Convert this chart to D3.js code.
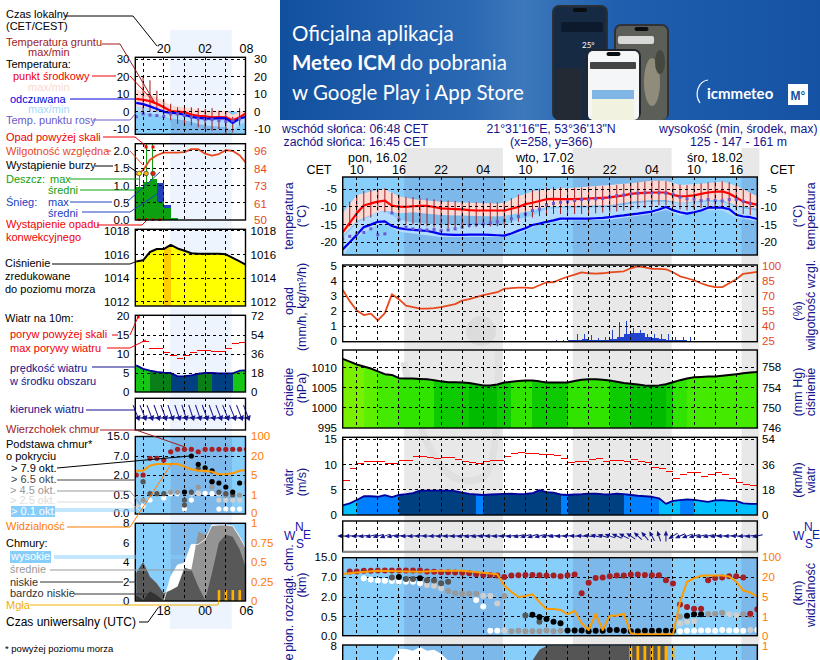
<!DOCTYPE html>
<html>
<head>
<meta charset="utf-8">
<script src="https://cdn.jsdelivr.net/npm/d3@7"></script>
<style>
  body { margin: 0; background: #fff; }
  svg { display: block; }
  text { font-family: "Liberation Sans", Arial, sans-serif; font-size: 11px; }
</style>
</head>
<body>
<svg id="chart" width="820" height="660"></svg>
<script>
// ---- wide chart, hourly from Mon 08:00 (h=8) to Wed 19:00 (h=67)
const hoursR = d3.range(8, 68);
const tempMidR = [-17.2,-14.5,-11.8,-9.6,-9,-8.5,-8.2,-9.6,-9.9,-10,-9.8,-9.7,-9.7,-10,-10.4,-10.5,-10.6,-10.7,-10.9,-11,-11,-11,-11,-11,-10.5,-10,-9.2,-8.8,-8.3,-7.8,
  -7.7,-7.8,-7.8,-7.8,-7.7,-7.6,-7.5,-7.4,-7.3,-7,-6.7,-6.3,-6.1,-6,-5.9,-5.9,-5.9,-6.6,-7,-6.9,-6.7,-6.3,-5.9,-5.7,-5.6,-6.2,-7.3,-8.5,-8.9,-9.4];
const feelsR = [-22,-20,-17.9,-15.7,-15,-14.2,-14.1,-15.4,-16,-16.3,-16.5,-16.6,-16.8,-17.2,-17.7,-17.8,-17.9,-17.9,-17.8,-17.8,-17.8,-17.9,-18,-18.1,-17.5,-16.7,-16,-15.1,-14.7,-14.2,
  -13.8,-13.3,-13.3,-13.3,-13.3,-13.3,-13.2,-13.1,-12.9,-12.6,-12.4,-12.1,-11.9,-11.6,-11.3,-10.7,-10,-10.9,-11.5,-11.9,-11.5,-11,-10.2,-10.2,-10.2,-10.6,-12.2,-12.7,-12.9,-13.4];
const dewR = [-19,-18.3,-17.4,-17.2,-16.2,-17.9,-17.6,-11.7,-13.6,-15.7,-16.2,-16.4,-16.5,-16.4,-16.7,-16.5,-16.2,-15.7,-15.2,-15,-14.8,-14.5,-14.2,-13.8,-13.3,-12.7,-12,-11,-10.6,-9.4,
  -9,-8.7,-8.5,-8.2,-7.9,-7.9,-7.7,-7.6,-7.2,-6.8,-6.6,-6.3,-6.1,-6,-6,-6,-6.1,-6.4,-7.2,-7.7,-7.8,-8.2,-7.9,-8.2,-8.3,-7.9,-7.9,-8.4,-9,-9.4];
const groundMaxR = [-10.5,-8.5,-6.6,-5.5,-5.2,-4.8,-4.7,-6,-6.5,-7.2,-7.2,-7.5,-7.5,-7.8,-8,-8.2,-8.3,-8.4,-8.5,-8.6,-8.7,-8.8,-8.7,-8.6,-7.5,-6.5,-5.6,-5.2,-4.8,-4.5,
  -4.3,-4.4,-4.6,-4.6,-4.5,-4.3,-4.2,-4.1,-4,-3.8,-3.5,-3.2,-3,-2.8,-2.6,-2.6,-2.7,-3.3,-3.7,-3.8,-3.6,-3.3,-3,-2.8,-2.7,-3,-3.8,-5,-6,-7];
const groundMinR = [-20,-15.5,-14.5,-14,-13,-11,-11.5,-12,-13.5,-14.8,-15,-15.2,-15.5,-15.8,-16,-16,-16,-16,-15.8,-15.7,-15.5,-15.5,-15.5,-15,-14.5,-14.2,-13.8,-13,-12.6,-12.2,
  -12,-12,-12,-12,-12,-12,-11.8,-11.6,-11.5,-11.3,-11,-10.8,-10.5,-10.3,-10,-9.5,-9.5,-10,-10.7,-11,-10.7,-10.3,-10,-10,-10,-10.5,-11,-12,-12.3,-12.5];
const bandHoursR = [8,10,13,14,16,18,22,26,30,31,33,35,37,40,46,49,52,54,56,60,62,64,67];
const tempMaxR = [-11.8,-6.6,-5.2,-5,-7,-7.8,-8.5,-8.8,-9,-8.8,-7,-5.6,-5,-4.7,-3.8,-3.3,-2.6,-2.6,-3.8,-3.3,-2.8,-4,-7];
const tempMinR = [-18,-14,-11.4,-11,-11.8,-11.5,-12.3,-12.5,-12.7,-12.5,-11.8,-11,-10,-9.7,-9.5,-8.5,-8,-8,-8.8,-8,-8,-9.5,-10.5];
const feelsMaxR = [-19,-14.5,-11.5,-11.2,-13.5,-14.5,-15,-15,-15.2,-15,-13.5,-12.5,-10.5,-10.2,-10,-9,-8.5,-8.5,-9,-8.5,-8.5,-10,-11];
const feelsMinR = [-24,-18.5,-15,-14.8,-17,-17.5,-18.5,-18.5,-18.5,-18.5,-17.5,-15.8,-14.5,-13.8,-13.6,-12.8,-12,-10.8,-12.5,-11,-10.9,-13,-14];
const humidityR = [76.5,65,55.7,51,52.4,45.7,53,72,67,60.5,59,57.5,57.5,58,59,60.5,62,65.5,67,69,71,72.5,74,77.5,78,78.5,78.5,78,81,84,
  84,87,89.5,91.6,94,93,92.6,93,94,94.5,95,98,100,99,97.5,97.5,97,94,90,88,86,83,80.5,79,79,83,87,92.5,93.5,94.5];
const rainHoursR = d3.range(36, 59);
const rainMaxR = [0.03,0.03,0.05,0.05,0.1,0.5,0.5,0.4,0.2,0.3,0.75,1.3,1.35,0.9,0.75,0.5,0.5,0.5,0.5,0.3,0.3,0.25,0.02];
const rainMeanR = [0,0.02,0.03,0.03,0.05,0.1,0.12,0.1,0.06,0.08,0.15,0.25,0.5,0.55,0.55,0.25,0.2,0.15,0.1,0.08,0.05,0.02,0];
const pressureR = [1012.2,1011.5,1010.8,1010.3,1009.8,1009.1,1008.4,1008.2,1007.4,1007.3,1007.3,1007.2,1007.1,1006.9,1006.6,1006.4,1006.4,1006.3,1006.2,1005.9,1005.6,1005.6,1005.8,1006.3,1006.5,1006.7,1006.8,1006.8,1006.6,1006.3,
  1006.3,1006.3,1006.3,1006.7,1007,1007.1,1007.1,1007,1006.8,1006.5,1006.2,1006,1005.8,1005.6,1005.5,1005.6,1005.9,1006.4,1006.9,1007.3,1007.6,1007.7,1007.8,1007.8,1008,1008.2,1008.4,1008.6,1008.8,1008.9];
const windR = [1.9,2.3,2.95,3.7,3.7,3.6,3.9,3.55,3.95,4.1,4.3,4.8,4.8,4.8,4.8,4.8,4.7,4.4,4.15,4.05,3.95,4.05,4.1,4.15,4.2,4.1,4.15,4.3,4.9,4.5,
  4.4,4.05,3.95,4.05,4.1,4.2,4.2,4.1,4.05,4.2,4.1,3.95,3.8,3.7,3.6,3.3,2.2,2.8,2.95,3.1,3,2.8,2.6,2.9,2.95,2.8,2.8,2.3,2.2,2.2];
const gustR = [6.8,9.2,10.1,10.6,10.6,10.6,10.2,10.2,10.8,10.8,11.6,11.6,11.4,11.1,11.4,11.4,11,10.6,10.4,10.1,10.5,10.8,10.8,11.6,12.2,12.4,12.2,12.2,12,12,
  11.7,11.2,10.3,10.5,10.6,10.9,11.1,10.5,10.8,10.8,10.5,10.9,10.6,10.3,9.4,9.1,8.6,7.2,8,8.4,8.3,7.6,8,8.3,8,7.2,6.4,6,5.8];
const windDirR = [270,268,265,262,258,255,250,258,262,265,266,268,270,268,266,265,264,262,260,260,262,264,266,264,262,258,254,252,254,258,
  262,265,268,272,275,278,282,286,290,294,298,304,312,320,332,342,0,238,245,250,254,256,258,260,264,268,270,266,262,258];
const visHoursR = [8,10,13,19,22,25,28,30,31,32,33,34,35,36,37,38,39,40,41,42,43,44,45,46,47,48,49,50,52,54,55,56,57,58,59,60,62,63,64,65,66,67];
const visR = [32,38,45,41,45,45,37,31,13.6,9,5.2,6,7.2,4,2.6,2.6,2.4,1.5,2.2,0.65,0.3,1.6,0.3,1.2,1.2,1.6,0.13,0.07,0.07,0.07,0.07,4,16.5,19,25,26,26,22,16.5,10,8.5,5.5];
const cloudTopR = [null,9.2,9.2,9.5,9.5,9.6,9.6,9.6,9.6,9.6,9.6,9.6,9.2,9.1,8.9,8.9,8.8,8.7,8.5,8.1,7.8,7.8,7.6,7,7.6,7.7,7.8,7.8,7.7,7.6,
  7.6,7.3,7.7,8,3,5.6,6.75,6.9,7.3,7.6,7.6,8,8,7.8,7.7,7.7,6.2,5.4,1.45,1.25,1.12,1.12,6.2,6.75,6.9,7.3,7.3,6.9,0.73,1.07];
const base01R = [[11,6.7],[12,6.4],[13,6.15],[14,6.07],[15,6],[16,5.9],[17,5.85],[18,5.85],[19,5.44],[27,1.8],[28,1.28],[29,0.13],[30,0.13],
  [56,0.12],[57,0.13],[58,0.13],[59,0.14],[60,0.14],[61,0.13],[62,0.15],[63,0.14],[64,0.14],[65,0.13],[67,0.15]];
const base25R = [[20,5],[21,4.87],[22,4.2],[28,2.4],[29,2.3],[30,1.53],[31,0.14],[56,0.32],[57,0.37],[58,0.39],[63,0.68],[64,0.63],[66,0.15]];
const base45R = [[23,3.55],[24,3],[25,2.9],[26,2.9],[27,2.9],[31,2.3],[32,0.12],[33,0.13],[34,0.12],[35,0.12],[36,0.12],[37,0.14],[38,0.12],[39,0.13],[56,0.5],[60,0.7],[61,0.73],[62,0.8],[65,0.68],[66,0.63]];
const base65R = [[15,6.85],[17,6.5],[18,6.5],[20,6.2],[21,6.15],[22,5.44],[23,5.85],[34,0.6],[36,0.37]];
const base79R = [[16,7],[19,6.7],[35,0.65],[36,0.49],[37,0.44],[38,0.37],[39,0.33],[40,0.14],[41,0.14],[42,0.14],[43,0.12],[44,0.13],[45,0.13],[46,0.15],[47,0.15],[48,0.13],
  [49,0.12],[50,0.12],[51,0.13],[52,0.13],[53,0.13],[54,0.13],[55,0.13],[57,0.58],[58,0.68],[59,0.68]];
const highHoursR = [14,15,16,17,18,19,20,21,22,23,24];
const highR = [0,6.5,7.7,7.7,7.5,7.9,7.5,7.6,7.2,6.5,5];
const lowHoursR = [34,35,36,37,54,55];
const lowR = [0,6.5,7.6,8,8,0];
const fogHoursR = [49,50,51,52,53,54,55];
const fogR = [1,1,1,1,1,1,1];

// ---- narrow chart, hourly from 16:00 (h=16) to 08:00 next day (h=32)
const hoursL = d3.range(16, 33);
const tempMidL = [7.3,6.8,6,4.5,2.5,0.3,0,-0.3,-1.7,-2.4,-2.7,-3.3,-3.2,-3.3,-5,-3.3,-0.8];
const feelsL = [5,4.3,3,1.5,0,-0.8,-1,-1.8,-3,-3.6,-3.9,-4,-3.8,-3.9,-6.5,-4,-3];
const dewL = [-3,-1.3,-2,-2.3,-2.7,-1.3,-1.3,-2.3,-3.2,-4.2,-4.6,-4.6,-5.2,-5.6,-5.2,-4.2,-2.8];
const groundMaxL = [null,20,18,12,7,4.5,2.5,2.5,2.5,2,1.5,2,0.5,0,-3,2,2];
const groundMinL = [null,-0.5,0,0,-2,-5,-7,-8,-8,-9,-10,-11,-10,-13,-12,-8,-3];
const bandHoursL = [16,18,20,21,23,26,29,30,31,32];
const tempMaxL = [13,10,6,3.5,2.5,0.5,0.5,-2,0,-0.3];
const tempMinL = [3,2,0,-2,-2.5,-4,-5,-7,-4.5,-3];
const feelsMaxL = [4,2,-1,-2,-3,-5,-5,-7.5,-5,-3.5];
const feelsMinL = [0,-1,-3,-4,-5,-8,-9,-11,-7.5,-6];
const humidityL = [80,83,90,93,94.7,94.7,94.7,95,97,97,94,92.7,93.8,96.4,95.8,93,87.6];
const rainHoursL = [16,17,18,19,20,21];
const rainMeanL = [0.96,1.1,1.18,0.53,0.34,0.05];
const snowMeanL = [0,0,0,0.55,0.1,0];
const rainMaxL = [1.35,2.5,2.5,0,0,0];
const stormHoursL = [16,17,18];
const stormColors = ["#ffee00", "#ffb000", "#f02000"];
const convectiveHoursL = [16,17,18,19];
const pressureL = [1015.4,1015.5,1016.2,1016.45,1016.45,1016.8,1016.5,1016.3,1016.1,1016.05,1016.05,1016.05,1016.05,1016,1015.7,1015.4,1015.1];
const windL = [7,6.1,5.6,5.3,5.1,5,4.1,4.2,4.4,4.8,5,5,4.9,4.9,4.9,5.6,5.7];
const gustHoursL = d3.range(17, 32);
const gustL = [13.3,11.5,11.5,10.5,9.5,8.7,9.7,10.4,10.9,10.9,10.6,10.6,11.5,12.8,13];
const windDirL = [158,158,159,160,160,161,161,162,162,161,160,160,159,158,158,159,159];
const visL = [8.4,8.4,12.4,13.7,13.7,13.7,13.7,11.6,9.5,8.4,8.4,7.6,5.5,5.8,6.3,8.4,9];
const cloudTopL = [2,2,6.4,6.4,5.95,8.7,9.7,9.7,9.7,8.7,9.7,9.7,9.7,9.7,9.7,9.7,9.7];
const base01L = [[17,0.2],[18,0.36],[20,0.42],[21,0.6],[22,0.6],[24,0.6],[25,0.63],[26,0.63],[27,0.6],[28,0.6],[24,0.36],[23,0.12],[28,0.11],[29,0.11],[30,0.11],[31,0.11]];
const base25L = [[16,0.2],[21,0.72],[22,0.72],[25,0.63],[28,0.36],[29,0.36],[30,0.36],[31,0.36]];
const base45L = [[17,0.36],[21,0.72],[22,0.72],[24,0.65],[25,1.1],[26,3.2],[27,1.1],[28,0.65],[29,0.5],[31,0.5],[32,1.4]];
const base65L = [[17,1.5],[18,0.6],[19,0.6],[20,0.6],[23,0.36],[23,0.22],[24,0.72],[25,3.7],[27,1.5],[28,0.72],[29,0.6],[30,0.5]];
const base79L = [[24,7],[25,4.8],[26,3.9],[27,3.1],[27,1.5],[28,1.4],[29,1.1],[30,0.72],[31,1.4],[23,0.72]];
const highL = [0,0,0,0,0,2.5,3.7,3.9,5.8,5.8,6.3,7.8,7.8,7.8,7.7,6.6,5.3];
const midL = [0,0,0,0,0.8,0.8,0.8,3.2,3.2,7.1,6.8,7.7,7.8,7.8,7.7,6.6,5.3];
const lowL = [2.9,4,2.5,1.8,0.8,1.1,1.5,3.4,3.2,1.5,0.1,2.9,6,6.8,6.6,5.3,3.2];
const veryLowL = [0.6,0.1,1,0.6,0,0,0,0,0,0,0,0,0,0,0,0,0];
const fogHoursL = [28,29,30,31];
const fogL = [0.14,0.14,0.14,0.14];

const nightR = [[16.75,30.8],[40.75,54.8],[64.75,67.3]];
const nightL = [[21,29.9]];
const timeTicksR = ["10","16","22","04","10","16","22","04","10","16"];
const timeTicksL = ["20","02","08"];
const utcTicksL = ["18","00","06"];

const xR = d3.scaleLinear().domain([8, 67]).range([342.7, 757.3]);
const xL = d3.scaleLinear().domain([16, 32]).range([136.2, 246.5]);

const svg = d3.select("#chart");
const NAVY = "#14148c", DEEPBLUE = "#1515a8", ORANGE = "#ff7a00", RHCOL = "#e8481c", BROWN = "#a01c1c";
const SKY = "#87cefa", SKYNIGHT = "#7cb9ea", LIGHTSKY = "#b4dcff", PINK = "#fbdad6";

function label(txt, x, y, color, size, anchor) {
  return svg.append("text").attr("x", x).attr("y", y).attr("fill", color || "#000")
    .style("font-size", (size || 11) + "px")
    .attr("text-anchor", anchor || "start").text(txt);
}
function vlabel(txt, x, y, color, size) {
  return svg.append("text").attr("transform", `translate(${x},${y}) rotate(-90)`)
    .attr("fill", color || NAVY).style("font-size", (size || 12.5) + "px")
    .attr("text-anchor", "middle").text(txt);
}
function conn(points, color, w) {
  svg.append("path").attr("d", d3.line()(points)).attr("fill", "none")
    .attr("stroke", color || "#000").attr("stroke-width", w || 1);
}

// banner
const defs = svg.append("defs");
const grad = defs.append("linearGradient").attr("id", "bannerGrad");
[["0%","#11509f"],["35%","#2a68b4"],["45%","#3c78ba"],["62%","#1f5fae"],["100%","#1552a4"]].forEach(s =>
  grad.append("stop").attr("offset", s[0]).attr("stop-color", s[1]));
svg.append("rect").attr("x", 280).attr("y", 0).attr("width", 540).attr("height", 120).attr("fill", "url(#bannerGrad)");
const bannerText = (t, x, y, size, weight) => svg.append("text").attr("x", x).attr("y", y).attr("fill", "#fff")
  .style("font-family", "Lato").style("font-size", size + "px").style("font-weight", weight || 400).text(t);
bannerText("Oficjalna aplikacja", 292, 41, 20.5);
bannerText("Meteo ICM", 292, 70, 20.5, 700);
bannerText("do pobrania", 400, 70, 20.5);
bannerText("w Google Play i App Store", 292, 100, 20.5);
function phone(x, y, w, h, body, screen) {
  svg.append("rect").attr("x", x).attr("y", y).attr("width", w).attr("height", h).attr("rx", 7).attr("fill", body);
  svg.append("rect").attr("x", x + 2).attr("y", y + 2).attr("width", w - 4).attr("height", h - 2).attr("rx", 5).attr("fill", screen);
  svg.append("rect").attr("x", x + w / 2 - 7).attr("y", y + 3).attr("width", 14).attr("height", 4).attr("rx", 2).attr("fill", "#0a0d12");
}
const fillRect = (x, y, w, h, fill, rx) => svg.append("rect").attr("x", x).attr("y", y).attr("width", w).attr("height", h).attr("rx", rx || 0).attr("fill", fill);
phone(552, 5, 56, 115, "#2b2f36", "#162a44");
fillRect(561, 22, 42, 10, "#0d1a2e", 2);
bannerText("25°", 582, 48, 8);
fillRect(556, 68, 26, 52, "#232a33");
phone(614, 24, 55, 96, "#30323a", "#5c5f58");
fillRect(618, 36, 36, 8, "#d8d8d8", 2);
svg.append("ellipse").attr("cx", 652).attr("cy", 82).attr("rx", 8).attr("ry", 24).attr("fill", "#8f8c7c");
svg.append("ellipse").attr("cx", 660).attr("cy", 62).attr("rx", 5).attr("ry", 12).attr("fill", "#45483f");
phone(586, 49, 55, 71, "#22252b", "#f4f6f8");
fillRect(590, 62, 46, 7, "#444", 1);
fillRect(592, 90, 42, 9, "#7fb6e6");
fillRect(592, 99, 42, 21, "#f2f2e0");
svg.append("text").attr("x", 707).attr("y", 99).attr("fill", "#fff").style("font-family", "Lato").style("font-size", "15px").style("font-weight", 700).text("icmmeteo");
fillRect(788, 84, 20, 21, "#fff");
svg.append("text").attr("x", 798).attr("y", 100).attr("text-anchor", "middle").attr("fill", "#1552a4").style("font-size", "12px").style("font-weight", 700).text("M°");
svg.append("path").attr("d", "M700,103 A12,14 0 0 1 708,80").attr("fill", "none").attr("stroke", "#fff").attr("stroke-width", 1.2);

// header lines
label("wschód słońca: 06:48 CET", 282, 133, NAVY, 12.3);
label("zachód słońca: 16:45 CET", 283.5, 146, NAVY, 12.3);
label("21°31'16\"E, 53°36'13\"N", 486.5, 133, NAVY, 12.3);
label("(x=258, y=366)", 510, 146, NAVY, 12.3);
label("wysokość (min, środek, max)", 659, 133, NAVY, 12.3);
label("125 - 147 - 161 m", 690, 146, NAVY, 12.3);

// day/night bands behind the panels
nightR.forEach(n => svg.append("rect").attr("x", xR(n[0])).attr("y", 148).attr("width", xR(n[1]) - xR(n[0])).attr("height", 512).attr("fill", "#e8e8e8"));
nightL.forEach(n => svg.append("rect").attr("x", 170).attr("y", 30).attr("width", 61.7).attr("height", 599).attr("fill", "#eef4fd"));
svg.append("circle").attr("cx", 481).attr("cy", 331).attr("r", 15).attr("fill", "#dcdcdc");
svg.append("path").attr("d", "M404,362 Q430,500 482,478 Q500,470 498,350").attr("fill", "none").attr("stroke", "#e0e0e0").attr("stroke-width", 7);

// small helpers working on one panel
function frame(x0, x1, top, bottom) { return { x0, x1, top, bottom, w: x1 - x0, h: bottom - top }; }
function skyBackground(p, x, nights, yFrom) {
  svg.append("rect").attr("x", p.x0).attr("y", yFrom).attr("width", p.w).attr("height", p.bottom - yFrom).attr("fill", SKY);
  nights.forEach(n => {
    const a = Math.max(x(n[0]), p.x0), b = Math.min(x(n[1]), p.x1);
    svg.append("rect").attr("x", a).attr("y", yFrom).attr("width", b - a).attr("height", p.bottom - yFrom).attr("fill", SKYNIGHT);
  });
}
function grid(p, xTicks, x, yTicks, y) {
  const g = svg.append("g").attr("stroke", "#000").attr("stroke-dasharray", "3,3").attr("shape-rendering", "crispEdges");
  g.selectAll(".v").data(xTicks).join("line").attr("x1", d => x(d)).attr("x2", d => x(d)).attr("y1", p.top).attr("y2", Math.min(p.bottom, 660));
  if (y) g.selectAll(".h").data(yTicks).join("line").attr("x1", p.x0).attr("x2", p.x1).attr("y1", d => y(d)).attr("y2", d => y(d));
}
function border(p) {
  svg.append("rect").attr("x", p.x0).attr("y", p.top).attr("width", p.w).attr("height", p.h)
    .attr("fill", "none").attr("stroke", "#000").attr("stroke-width", 1.4);
}
function axis(scale, ticks, xPos, side, color, fmt) {
  const a = (side === "left" ? d3.axisLeft(scale) : d3.axisRight(scale)).tickValues(ticks).tickSize(0).tickPadding(0).tickFormat(fmt || String);
  const g = svg.append("g").attr("transform", `translate(${xPos},0)`).call(a);
  g.select(".domain").remove();
  g.selectAll("text").attr("fill", color || "#000").style("font-size", "11.5px").style("font-family", '"Liberation Sans", Arial, sans-serif');
  return g;
}
function bandArea(parent, hours, x, y, hi, lo, fill) {
  const area = d3.area().x((d, i) => x(hours[i])).y0((d, i) => y(lo[i])).y1((d, i) => y(hi[i]));
  parent.append("path").attr("d", area(hours)).attr("fill", fill);
}
function seriesLine(parent, hours, values, x, y, color, w) {
  const line = d3.line().defined((d, i) => values[i] !== null).x(d => x(d)).y((d, i) => y(values[i]));
  parent.append("path").attr("d", line(hours)).attr("fill", "none").attr("stroke", color).attr("stroke-width", w).attr("stroke-linejoin", "round");
}
function clipped(id, p) {
  defs.append("clipPath").attr("id", id).append("rect").attr("x", p.x0).attr("y", p.top).attr("width", p.w).attr("height", p.h);
  return svg.append("g").attr("clip-path", `url(#${id})`);
}
// one vertical strip per hour, filled down from the curve, colour taken from the value at its end
function strips(parent, hours, values, x, y, baseY, color) {
  d3.pairs(d3.range(hours.length)).forEach(([a, b]) => {
    const area = d3.area().x(i => x(hours[i])).y0(baseY).y1(i => y(values[i]));
    parent.append("path").attr("d", area([a, b])).attr("fill", color(values[b])).attr("shape-rendering", "crispEdges");
  });
}
function dots(parent, list, x, y, color, r) {
  parent.selectAll(null).data(list).join("circle")
    .attr("cx", d => x(d[0])).attr("cy", d => y(d[1])).attr("r", r).attr("fill", color);
}
function arrows(parent, hours, dirs, x, cy, len, head) {
  hours.forEach((h, i) => {
    const g = parent.append("g").attr("transform", `translate(${x(h)},${cy}) rotate(${dirs[i]})`);
    g.append("line").attr("y1", len / 2).attr("y2", -len / 2 + 3).attr("stroke", NAVY).attr("stroke-width", 1);
    g.append("path").attr("d", d3.line()([[0, -len / 2], [-head, -len / 2 + 5], [head, -len / 2 + 5]])).attr("fill", NAVY);
  });
}

const windColor = d3.scaleThreshold().domain([3, 4, 5, 5.5]).range(["#00bfff", "#0080ff", "#004080", "#0b7f17", "#16c616"]);
const pressColorR = d3.scaleThreshold().domain([1006, 1006.7, 1007.4, 1009, 1010, 1011.7]).range(["#00bb00", "#0ecb00", "#30e400", "#44ea00", "#5cf000", "#78f000", "#a0f500"]);
const pressColorL = d3.scaleThreshold().domain([1016.7]).range(["#ffff00", "#ffcc00"]);
const baseLevels = [["#ffffff"], ["#cfcfcf"], ["#999999"], ["#555555"], ["#000000"]];
const gridHoursR = d3.range(10, 67, 3), gridHoursL = [17, 20, 23, 26, 29];

// ======== wide chart panels ========
// temperature
const pTR = frame(342.7, 757.3, 177, 255);
const yTR = d3.scaleLinear().domain([-5, -20]).range([189.3, 242.3]);
skyBackground(pTR, xR, nightR, pTR.top);
const gTR = clipped("ctr", pTR);
bandArea(gTR, bandHoursR, xR, yTR, feelsMaxR, feelsMinR, LIGHTSKY);
bandArea(gTR, bandHoursR, xR, yTR, tempMaxR, tempMinR, PINK);
hoursR.forEach((h, i) => gTR.append("line").attr("x1", xR(h)).attr("x2", xR(h)).attr("y1", yTR(groundMaxR[i])).attr("y2", yTR(groundMinR[i])).attr("stroke", BROWN).attr("stroke-width", 1));
seriesLine(gTR, hoursR, tempMidR, xR, yTR, "#ff0000", 2.2);
seriesLine(gTR, hoursR, feelsR, xR, yTR, "#0000f0", 2.2);
gTR.selectAll(null).data(hoursR).join("rect").attr("x", d => xR(d) - 1.5).attr("y", (d, i) => yTR(dewR[i]) - 1.5).attr("width", 3).attr("height", 3).attr("fill", "#6a5acd");
grid(pTR, gridHoursR, xR, [-5, -10, -15, -20], yTR);
border(pTR);
axis(yTR, [-5, -10, -15, -20], 337, "left");
[-5, -10, -15, -20].forEach(v => label(String(v), 777, yTR(v) + 4, "#000", 11.5, "end"));
label("CET", 319, 174, "#000", 12.5, "middle");
label("CET", 770, 174, "#000", 12.5);
timeTicksR.forEach((t, i) => label(t, xR(10 + i * 6), 174, "#000", 12.5, "middle"));
label("pon, 16.02", 348, 162, "#000", 12.5);
label("wto, 17.02", 516, 162, "#000", 12.5);
label("śro, 18.02", 687, 162, "#000", 12.5);
vlabel("temperatura", 293, 216); vlabel("(°C)", 306, 216);
vlabel("(°C)", 802, 216); vlabel("temperatura", 815, 216);

// precipitation and humidity
const pPR = frame(342.7, 757.3, 265, 341.7);
const yPR = d3.scaleLinear().domain([0, 5]).range([341, 266.3]);
const yHR = d3.scaleLinear().domain([25, 100]).range([341, 266.3]);
const gPR = clipped("cpr", pPR);
rainHoursR.forEach((h, i) => {
  gPR.append("rect").attr("x", xR(h)).attr("y", yPR(rainMeanR[i])).attr("width", 7.03).attr("height", yPR(0) - yPR(rainMeanR[i])).attr("fill", "#2244cc").attr("shape-rendering", "crispEdges");
  gPR.append("line").attr("x1", xR(h) + 3).attr("x2", xR(h) + 3).attr("y1", yPR(rainMaxR[i])).attr("y2", yPR(0)).attr("stroke", "#2244cc").attr("shape-rendering", "crispEdges");
});
seriesLine(gPR, hoursR, humidityR, xR, yHR, RHCOL, 1.8);
grid(pPR, gridHoursR, xR, [1, 2, 3, 4, 5], yPR);
border(pPR);
axis(yPR, [0, 1, 2, 3, 4, 5], 337, "left");
axis(yHR, [25, 40, 55, 70, 85, 100], 762, "right", RHCOL);
vlabel("opad", 293, 301); vlabel("(mm/h, kg/m³/h)", 306, 307);
vlabel("(%)", 802, 311); vlabel("wilgotność wzgl.", 815, 305);

// pressure
const pCR = frame(342.7, 757.3, 350, 428);
const yCR = d3.scaleLinear().domain([1010, 995]).range([367.7, 428]);
const yMR = d3.scaleLinear().domain([746, 758]).range([428, 367]);
const gCR = clipped("ccr", pCR);
strips(gCR, hoursR, pressureR, xR, yCR, pCR.bottom, pressColorR);
seriesLine(gCR, hoursR, pressureR, xR, yCR, "#000", 2);
grid(pCR, gridHoursR, xR, [1010, 1005, 1000], yCR);
border(pCR);
axis(yCR, [1010, 1005, 1000, 995], 337, "left");
axis(yMR, [758, 754, 750, 746], 762, "right");
vlabel("ciśnienie", 293, 392); vlabel("(hPa)", 306, 388);
vlabel("(mm Hg)", 802, 392); vlabel("ciśnienie", 815, 392);

// wind speed and gusts
const pWR = frame(342.7, 757.3, 437.3, 515);
const yWR = d3.scaleLinear().domain([0, 15]).range([515, 439]);
const yKR = d3.scaleLinear().domain([0, 54]).range([515, 439]);
const gWR = clipped("cwr", pWR);
strips(gWR, hoursR, windR, xR, yWR, pWR.bottom, windColor);
seriesLine(gWR, hoursR, windR, xR, yWR, "#00009c", 1.8);
gustR.forEach((v, i) => gWR.append("line").attr("x1", xR(hoursR[i])).attr("x2", xR(hoursR[i] + 1)).attr("y1", yWR(v)).attr("y2", yWR(v)).attr("stroke", "#ff0000").attr("shape-rendering", "crispEdges"));
grid(pWR, gridHoursR, xR, [5, 10, 15], yWR);
border(pWR);
axis(yWR, [0, 5, 10, 15], 337, "left");
axis(yKR, [0, 18, 36, 54], 762, "right");
vlabel("wiatr", 293, 482); vlabel("(m/s)", 306, 482);
vlabel("(km/h)", 802, 480); vlabel("wiatr", 815, 480);

// wind direction
const pDR = frame(342.7, 757.3, 521, 551.7);
grid(pDR, gridHoursR, xR);
arrows(svg, hoursR, windDirR, xR, 536, 11, 2.2);
border(pDR);
svg.append("line").attr("x1", pDR.x0).attr("x2", pDR.x1).attr("y1", 551.7).attr("y2", 551.7).attr("stroke", "#888").attr("stroke-width", 2);
const compass = (dx) => {
  label("N", 295 + dx, 531, DEEPBLUE, 12); label("W", 284 + dx, 540, DEEPBLUE, 12);
  label("E", 303 + dx, 539, DEEPBLUE, 12); label("S", 296 + dx, 548, DEEPBLUE, 12);
};
compass(0); compass(509);

// cloud base / tops / visibility
const pBR = frame(342.7, 757.3, 557.7, 635.7);
const baseRange = [635.7, 616.7, 597.3, 577, 557];
const yBR = d3.scaleLinear().domain([0, 0.5, 2, 7, 15]).range(baseRange);
const yVR = d3.scaleLinear().domain([0, 1, 5, 20, 100]).range(baseRange);
skyBackground(pBR, xR, nightR, pBR.top);
grid(pBR, gridHoursR, xR, [0.5, 2, 7], yBR);
const gBR = clipped("cbr", pBR);
[base01R, base25R, base45R, base65R, base79R].forEach((list, i) => dots(gBR, list, xR, yBR, baseLevels[i][0], 3));
const topsR = hoursR.map((h, i) => [h, cloudTopR[i]]).filter(d => d[1] !== null);
dots(gBR, topsR, xR, yBR, "#a51f24", 3);
seriesLine(gBR, visHoursR, visR, xR, yVR, "#ff9a00", 2);
border(pBR);
axis(yBR, [0, 0.5, 2, 7, 15], 337, "left", "#000", d3.format(".1f"));
axis(yVR, [0, 1, 5, 20, 100], 762, "right", ORANGE);
vlabel("pion. rozciągł. chm.", 293, 598); vlabel("(km)", 306, 585);
vlabel("e", 293, 657);
vlabel("(km)", 802, 593); vlabel("widzialność", 815, 595);

// cloud cover, cut off by the bottom of the page
const pNR = frame(342.7, 757.3, 645, 723);
const yNR = d3.scaleLinear().domain([0, 8]).range([723, 646]);
const yFR = d3.scaleLinear().domain([0, 1]).range([723, 646]);
skyBackground(pNR, xR, nightR, pNR.top);
const gNR = clipped("cnr", pNR);
bandArea(gNR, highHoursR, xR, yNR, highR, highR.map(() => 0), "#fff");
bandArea(gNR, lowHoursR, xR, yNR, lowR, lowR.map(() => 0), "#555");
fogHoursR.forEach((h, i) => gNR.append("rect").attr("x", xR(h) - 1.4).attr("y", yFR(fogR[i])).attr("width", 2.8).attr("height", 723 - yFR(fogR[i])).attr("fill", "#ffb000"));
grid(pNR, gridHoursR, xR);
border(pNR);
axis(yNR, [8], 337, "left");
axis(yFR, [1], 762, "right", ORANGE);

// ======== narrow chart panels ========
// temperature
const pTL = frame(135.3, 245.5, 57.3, 134.3);
const yTL = d3.scaleLinear().domain([30, -10]).range([59.3, 129]);
skyBackground(pTL, xL, nightL, yTL(0));
const gTL = clipped("ctl", pTL);
bandArea(gTL, bandHoursL, xL, yTL, feelsMaxL, feelsMinL, LIGHTSKY);
bandArea(gTL, bandHoursL, xL, yTL, tempMaxL, tempMinL, PINK);
hoursL.forEach((h, i) => { if (groundMaxL[i] !== null) gTL.append("line").attr("x1", xL(h)).attr("x2", xL(h)).attr("y1", yTL(groundMaxL[i])).attr("y2", yTL(groundMinL[i])).attr("stroke", BROWN).attr("stroke-width", 1); });
seriesLine(gTL, hoursL, tempMidL, xL, yTL, "#ff0000", 2.2);
seriesLine(gTL, hoursL, feelsL, xL, yTL, "#0000f0", 2.2);
gTL.selectAll(null).data(hoursL).join("rect").attr("x", d => xL(d) - 1.5).attr("y", (d, i) => yTL(dewL[i]) - 1.5).attr("width", 3).attr("height", 3).attr("fill", "#6a5acd");
grid(pTL, gridHoursL, xL, [30, 20, 10, 0, -10], yTL);
border(pTL);
axis(yTL, [30, 20, 10, 0, -10], 129.5, "left");
axis(yTL, [30, 20, 10, 0, -10], 254, "right");
timeTicksL.forEach((t, i) => label(t, xL(20 + i * 6), 53, "#000", 12.5, "middle"));

// precipitation and humidity
const pPL = frame(135.3, 245.5, 143.7, 220);
const yPL = d3.scaleLinear().domain([0, 2]).range([220, 150.7]);
const yHL = d3.scaleLinear().domain([50, 96]).range([220, 150.7]);
const gPL = clipped("cpl", pPL);
rainHoursL.forEach((h, i) => {
  const x0 = xL(h), w = 6.9;
  gPL.append("rect").attr("x", x0).attr("y", yPL(rainMeanL[i] + snowMeanL[i])).attr("width", w).attr("height", yPL(0) - yPL(snowMeanL[i])).attr("fill", "#2040c0").attr("shape-rendering", "crispEdges");
  gPL.append("rect").attr("x", x0).attr("y", yPL(rainMeanL[i])).attr("width", w).attr("height", yPL(0) - yPL(rainMeanL[i])).attr("fill", "#0da010").attr("shape-rendering", "crispEdges");
  if (rainMaxL[i] > 0) gPL.append("line").attr("x1", x0 + 3).attr("x2", x0 + 3).attr("y1", yPL(Math.min(rainMaxL[i], 2.2))).attr("y2", yPL(0)).attr("stroke", "#0da010").attr("shape-rendering", "crispEdges");
  if (rainMaxL[i] > 2) svg.append("rect").attr("x", x0 + 1.5).attr("y", 145.5).attr("width", 3).attr("height", 3).attr("fill", "#f00000");
});
seriesLine(gPL, hoursL, humidityL, xL, yHL, RHCOL, 1.8);
stormHoursL.forEach((h, i) => svg.append("circle").attr("cx", xL(h) + 3).attr("cy", 173.5).attr("r", 2.3).attr("fill", stormColors[i]).attr("stroke", "#333").attr("stroke-width", 0.7));
convectiveHoursL.forEach(h => svg.append("circle").attr("cx", xL(h) + 3).attr("cy", 219.5).attr("r", 1.5).attr("fill", "#f00000"));
grid(pPL, gridHoursL, xL, [2, 1.5, 1, 0.5], yPL);
border(pPL);
axis(yPL, [0, 0.5, 1, 1.5, 2], 129.5, "left", "#000", d3.format(".1f"));
axis(yHL, [50, 61, 73, 84, 96], 254, "right", RHCOL);

// pressure
const pCL = frame(135.3, 245.5, 229.3, 306);
const yCL = d3.scaleLinear().domain([1018, 1012]).range([230.7, 301.7]);
const gCL = clipped("ccl", pCL);
strips(gCL, hoursL, pressureL, xL, yCL, pCL.bottom, pressColorL);
seriesLine(gCL, hoursL, pressureL, xL, yCL, "#000", 2);
grid(pCL, gridHoursL, xL, [1018, 1016, 1014, 1012], yCL);
border(pCL);
axis(yCL, [1018, 1016, 1014, 1012], 129.5, "left");
axis(yCL, [1018, 1016, 1014, 1012], 250.5, "right");

// wind
const pWL = frame(135.3, 245.5, 315.3, 392);
const yWL = d3.scaleLinear().domain([0, 20]).range([392, 316]);
const yKL = d3.scaleLinear().domain([0, 72]).range([392, 316]);
const gWL = clipped("cwl", pWL);
strips(gWL, hoursL, windL, xL, yWL, pWL.bottom, windColor);
seriesLine(gWL, hoursL, windL, xL, yWL, "#00009c", 1.8);
gustL.forEach((v, i) => gWL.append("line").attr("x1", xL(gustHoursL[i]) - 1).attr("x2", xL(gustHoursL[i] + 1) - 1).attr("y1", yWL(v)).attr("y2", yWL(v)).attr("stroke", "#ff0000").attr("shape-rendering", "crispEdges"));
svg.append("circle").attr("cx", 138.3).attr("cy", 317).attr("r", 1.6).attr("fill", "#f00");
grid(pWL, gridHoursL, xL, [5, 10, 15], yWL);
border(pWL);
axis(yWL, [0, 5, 10, 15, 20], 129.5, "left");
axis(yKL, [0, 18, 36, 54, 72], 251, "right");

// wind direction
const pDL = frame(135.3, 245.5, 398.3, 430);
grid(pDL, gridHoursL, xL);
svg.append("line").attr("x1", pDL.x0).attr("x2", 250).attr("y1", 418).attr("y2", 418).attr("stroke", NAVY);
arrows(svg, hoursL, windDirL, xL, 413, 17, 3.2);
border(pDL);

// cloud base / tops / visibility
const pBL = frame(135.3, 245.5, 436.5, 514);
const baseRangeL = [513, 495, 475, 456, 436];
const yBL = d3.scaleLinear().domain([0, 0.5, 2, 7, 15]).range(baseRangeL);
const yVL = d3.scaleLinear().domain([0, 1, 5, 20, 100]).range(baseRangeL);
skyBackground(pBL, xL, nightL, pBL.top);
grid(pBL, gridHoursL, xL, [0.5, 2, 7], yBL);
const gBL = clipped("cbl", pBL);
[base01L, base25L, base45L, base65L, base79L].forEach((list, i) => dots(gBL, list, xL, yBL, baseLevels[i][0], 2.6));
dots(gBL, hoursL.map((h, i) => [h, cloudTopL[i]]), xL, yBL, "#a51f24", 2.6);
seriesLine(gBL, hoursL, visL, xL, yVL, "#ff9a00", 2);
border(pBL);
axis(yBL, [0, 0.5, 2, 7, 15], 129.5, "left", "#000", d3.format(".1f"));
axis(yVL, [0, 1, 5, 20, 100], 251, "right", ORANGE);

// cloud cover
const pNL = frame(135.3, 245.5, 523.3, 601);
const yNL = d3.scaleLinear().domain([0, 8]).range([601, 523]);
const yFL = d3.scaleLinear().domain([0, 1]).range([601, 523]);
skyBackground(pNL, xL, nightL, pNL.top);
const gNL = clipped("cnl", pNL);
const zeros = hoursL.map(() => 0);
bandArea(gNL, hoursL, xL, yNL, highL, zeros, "#fff");
bandArea(gNL, hoursL, xL, yNL, midL, zeros, "#949494");
bandArea(gNL, hoursL, xL, yNL, lowL, zeros, "#585858");
bandArea(gNL, hoursL, xL, yNL, veryLowL, zeros, "#333");
seriesLine(gNL, hoursL, highL, xL, yNL, "#fff", 0.8);
fogHoursL.forEach((h, i) => gNL.append("rect").attr("x", xL(h) - 1.2).attr("y", yFL(fogL[i])).attr("width", 2.6).attr("height", 601 - yFL(fogL[i])).attr("fill", "#ffb000"));
grid(pNL, gridHoursL, xL);
border(pNL);
axis(yNL, [8, 6, 4, 2, 0], 129.5, "left");
axis(yFL, [1, 0.75, 0.5, 0.25, 0], 251, "right", ORANGE);
utcTicksL.forEach((t, i) => label(t, xL(20 + i * 6), 615, "#000", 12.5, "middle"));

// ======== legend text and leader lines on the far left ========
label("Czas lokalny", 6, 18);
label("(CET/CEST)", 6, 30);
conn([[65, 16], [133, 16], [157, 46]]);
label("Temperatura gruntu", 6, 46, BROWN);
label("max/min", 28, 56, BROWN);
conn([[102, 44], [120, 44], [155, 103]], BROWN);
label("Temperatura:", 6, 68);
label("punkt środkowy", 13, 80, "#f00000");
conn([[92, 76], [116, 76]], "#f00000");
conn([[130, 76], [155, 103]], "#f00000");
label("max/min", 28, 91, "#fbd9cf");
label("odczuwana", 10, 103, "#0000e0");
conn([[70, 99], [136, 99]], "#0000e0");
label("max/min", 28, 113, "#a8d8f8");
label("Temp. punktu rosy", 6, 124, "#6a5acd");
conn([[93, 120], [130, 120], [136, 113]], "#6a5acd");
label("Opad powyżej skali", 6, 141, "#f00000");
conn([[103, 137], [135, 137], [146, 146]], "#f00000");
label("Wilgotność względna", 6, 155, RHCOL);
conn([[106, 151], [111, 151]], RHCOL);
conn([[130, 151], [143, 165]], RHCOL);
label("Wystąpienie burzy", 6, 169);
conn([[95, 166], [113, 166]]);
conn([[128, 166], [137, 172]]);
label("Deszcz:", 6, 183, "#10a010");
label("max", 50, 183, "#10a010");
conn([[70, 179], [139, 179]], "#10a010");
label("średni", 48, 194, "#10a010");
conn([[80, 190], [136, 190]], "#10a010");
label("Śnieg:", 6, 206, "#2040c0");
label("max", 48, 206, "#2040c0");
conn([[70, 202], [112, 202]], "#2040c0");
conn([[127, 202], [160, 172]], "#2040c0");
label("średni", 48, 217, "#2040c0");
conn([[82, 212], [130, 212], [160, 192]], "#2040c0");
label("Wystąpienie opadu", 6, 228, "#f00000");
label("konwekcyjnego", 6, 241, "#f00000");
conn([[97, 225], [142, 225], [146, 221]], "#f00000");
label("Ciśnienie", 5, 267);
conn([[52, 264], [130, 264], [135, 262]]);
label("zredukowane", 5, 280);
label("do poziomu morza", 5, 293);
label("Wiatr na 10m:", 5, 322);
label("poryw powyżej skali", 10, 338, "#f00000");
conn([[112, 335], [118, 335]], "#f00000");
conn([[130, 335], [138, 317]], "#f00000");
label("max porywy wiatru", 10, 352, "#f00000");
conn([[107, 348], [130, 348], [146, 340]], "#f00000");
label("prędkość wiatru", 10, 372, "#101090");
conn([[92, 367], [136, 367]], "#101090");
label("w środku obszaru", 10, 385, "#101090");
label("kierunek wiatru", 10, 413, "#101090");
conn([[86, 410], [136, 410]], "#101090");
label("Wierzchołek chmur", 6, 433, BROWN);
conn([[100, 430], [136, 430], [185, 447]], BROWN);
label("Podstawa chmur*", 6, 448);
label("o pokryciu", 6, 460);
label("> 7.9 okt.", 11, 472);
conn([[57, 468], [190, 456]]);
label("> 6.5 okt.", 11, 483, "#444");
conn([[57, 480], [136, 480]], "#444");
label("> 4.5 okt.", 10, 494, "#999");
conn([[57, 491], [130, 491], [141, 505]], "#999");
label("> 2.5 okt.", 10, 504, "#ddd");
conn([[57, 502], [130, 502], [141, 512]], "#ddd");
fillRect(11, 506, 44, 11, SKY);
label("> 0.1 okt.", 11, 515, "#fff");
conn([[55, 509], [136, 509]], SKY);
conn([[55, 511], [136, 511]], SKY);
label("Widzialność", 6, 530, ORANGE);
conn([[67, 527], [130, 527], [172, 463]], ORANGE);
label("Chmury:", 6, 547);
fillRect(10, 551, 41, 12, SKY);
label("wysokie", 11, 560, "#fff");
conn([[54, 556], [186, 556]], SKY);
conn([[54, 558], [186, 558]], SKY);
label("średnie", 10, 573, "#999");
conn([[50, 570], [192, 570]], "#999");
label("niskie", 10, 586, "#333");
conn([[40, 582], [123, 582]], "#333");
conn([[129, 582], [136, 582]], "#333");
label("bardzo niskie", 10, 597, "#333");
conn([[74, 594], [150, 594]], "#333");
label("Mgła", 6, 609, "#f0b000");
conn([[30, 605], [218, 605], [219, 600]], "#f0b000");
label("Czas uniwersalny (UTC)", 6, 626, "#000", 12);
conn([[139, 622], [148, 622], [158, 608]]);
label("* powyżej poziomu morza", 5, 652, "#000", 9.5);
</script>
</body>
</html>
